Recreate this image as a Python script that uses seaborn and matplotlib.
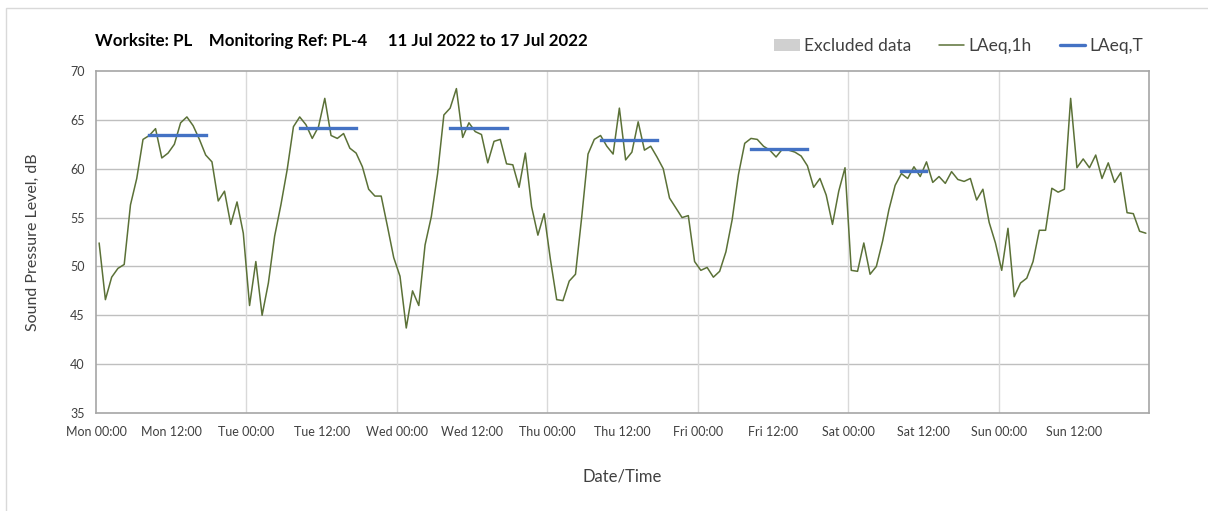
import numpy as np
import pandas as pd
import matplotlib
matplotlib.use("Agg")
import matplotlib.pyplot as plt
import seaborn as sns
from matplotlib.lines import Line2D
from matplotlib.patches import Patch, Rectangle

# ---------------- data ----------------
laeq_1h = [
    52.4, 46.6, 48.9, 49.8, 50.2, 56.3, 59.0, 63.0, 63.4, 64.1, 61.1, 61.6,
    62.5, 64.7, 65.3, 64.4, 63.0, 61.4, 60.7, 56.7, 57.7, 54.3, 56.6, 53.4,
    46.0, 50.5, 45.0, 48.3, 53.1, 56.3, 59.9, 64.3, 65.3, 64.5, 63.1, 64.3,
    67.2, 63.4, 63.1, 63.6, 62.1, 61.6, 60.2, 57.9, 57.2, 57.2, 54.1, 50.9,
    49.0, 43.7, 47.5, 46.0, 52.2, 55.1, 59.5, 65.5, 66.2, 68.2, 63.2, 64.7,
    63.8, 63.5, 60.6, 62.8, 63.0, 60.5, 60.4, 58.1, 61.6, 56.1, 53.2, 55.4,
    50.7, 46.6, 46.5, 48.5, 49.2, 55.1, 61.5, 63.0, 63.4, 62.3, 61.5, 66.2,
    60.9, 61.7, 64.8, 61.9, 62.3, 61.2, 60.0, 57.0, 56.0, 55.0, 55.2, 50.5,
    49.6, 49.9, 48.9, 49.5, 51.5, 54.8, 59.4, 62.6, 63.1, 63.0, 62.3, 61.9,
    61.2, 62.0, 61.9, 61.7, 61.3, 60.3, 58.1, 59.0, 57.3, 54.3, 57.7, 60.1,
    49.6, 49.5, 52.4, 49.2, 50.0, 52.6, 55.8, 58.3, 59.5, 59.0, 60.2, 59.2,
    60.7, 58.6, 59.2, 58.5, 59.7, 58.9, 58.7, 59.0, 56.8, 57.9, 54.5, 52.4,
    49.6, 53.9, 46.9, 48.3, 48.8, 50.5, 53.7, 53.7, 58.0, 57.6, 57.9, 67.2,
    60.1, 61.0, 60.1, 61.4, 59.0, 60.6, 58.6, 59.6, 55.5, 55.4, 53.6, 53.4,
]
# LAeq,T periods (day index, start hour, end hour, level)
period_day = [0, 1, 2, 3, 4, 5]
period_start = [8, 8, 8, 8, 8, 8]
period_end = [18, 18, 18, 18, 18, 13]
period_level = [63.4, 64.15, 64.2, 62.9, 62.0, 59.8]

tick_labels = ["Mon 00:00", "Mon 12:00", "Tue 00:00", "Tue 12:00",
               "Wed 00:00", "Wed 12:00", "Thu 00:00", "Thu 12:00",
               "Fri 00:00", "Fri 12:00", "Sat 00:00", "Sat 12:00",
               "Sun 00:00", "Sun 12:00", ""]

title = "Worksite: PL    Monitoring Ref: PL-4     11 Jul 2022 to 17 Jul 2022"

# ---------------- frames ----------------
hours = np.arange(len(laeq_1h)) + 0.5
df = pd.DataFrame({"hour": hours, "level": laeq_1h})

rows = []
for d, s, e, lv in zip(period_day, period_start, period_end, period_level):
    for h in range(s, e):
        rows.append({"hour": d * 24 + h + 0.5, "level": lv, "day": d})
dft = pd.DataFrame(rows)

# ---------------- plot ----------------
sns.set_theme(style="white")
plt.rcParams["font.family"] = ["Lato", "DejaVu Sans"]

W, H = 1208, 511
fig = plt.figure(figsize=(W / 100, H / 100), dpi=100)
fig.patch.set_facecolor("white")
fig.patches.append(Rectangle((5.5 / W, -0.1), 1.2, (1 - 8 / H) + 0.1,
                             transform=fig.transFigure, fill=False,
                             edgecolor="#d9d9d9", linewidth=1.0))

ax = fig.add_axes([96 / W, 1 - 413 / H, (1149 - 96) / W, (413 - 71) / H])

green = "#5b7137"
blue = "#4472c4"

sns.lineplot(data=df, x="hour", y="level", ax=ax, color=green, linewidth=1.1,
             estimator=None, legend=False)
sns.lineplot(data=dft, x="hour", y="level", units="day", estimator=None, ax=ax,
             color=blue, linewidth=2.4, legend=False)
for ln in ax.lines[1:]:
    ln.set_solid_capstyle("projecting")

ax.set_xlim(0, 168)
ax.set_ylim(35, 70)
ax.set_yticks(np.arange(35, 71, 5))
ax.set_xticks(np.arange(0, 169, 12))
ax.set_xticklabels(tick_labels)

ax.grid(False)
for y in np.arange(40, 70, 5):
    ax.axhline(y, color="#bfbfbf", linewidth=1.0, zorder=0)
for x in np.arange(24, 168, 24):
    ax.axvline(x, color="#d9d9d9", linewidth=1.0, zorder=0)

for sp in ax.spines.values():
    sp.set_color("#a6a6a6")
    sp.set_linewidth(1.2)

ax.tick_params(axis="both", which="major", direction="out", length=5,
               width=1.0, color="#a6a6a6", labelsize=9, labelcolor="#404040")
ax.tick_params(axis="x", which="major", pad=4)
ax.tick_params(axis="y", which="major", pad=3)

ax.set_xlabel("Date/Time", fontsize=12, color="#404040", labelpad=22)
ax.set_ylabel("Sound Pressure Level, dB", fontsize=11.5, color="#404040",
              labelpad=22)

fig.text(95 / W, 1 - 41 / H, title, fontsize=12.2, fontweight="bold",
         color="black", ha="left", va="center")

handles = [Patch(facecolor="#d0d0d0", edgecolor="none"),
           Line2D([], [], color=green, linewidth=1.1),
           Line2D([], [], color=blue, linewidth=2.4)]
labels = ["Excluded data", "LAeq,1h", "LAeq,T"]
fig.legend(handles, labels, loc="center right", ncol=3, frameon=False,
           bbox_to_anchor=(1155 / W, 1 - 46 / H), fontsize=12.5,
           handlelength=1.45, handletextpad=0.25, columnspacing=1.6,
           labelcolor="#404040", borderpad=0.2)

fig.savefig("out.png", dpi=100, facecolor="white")
